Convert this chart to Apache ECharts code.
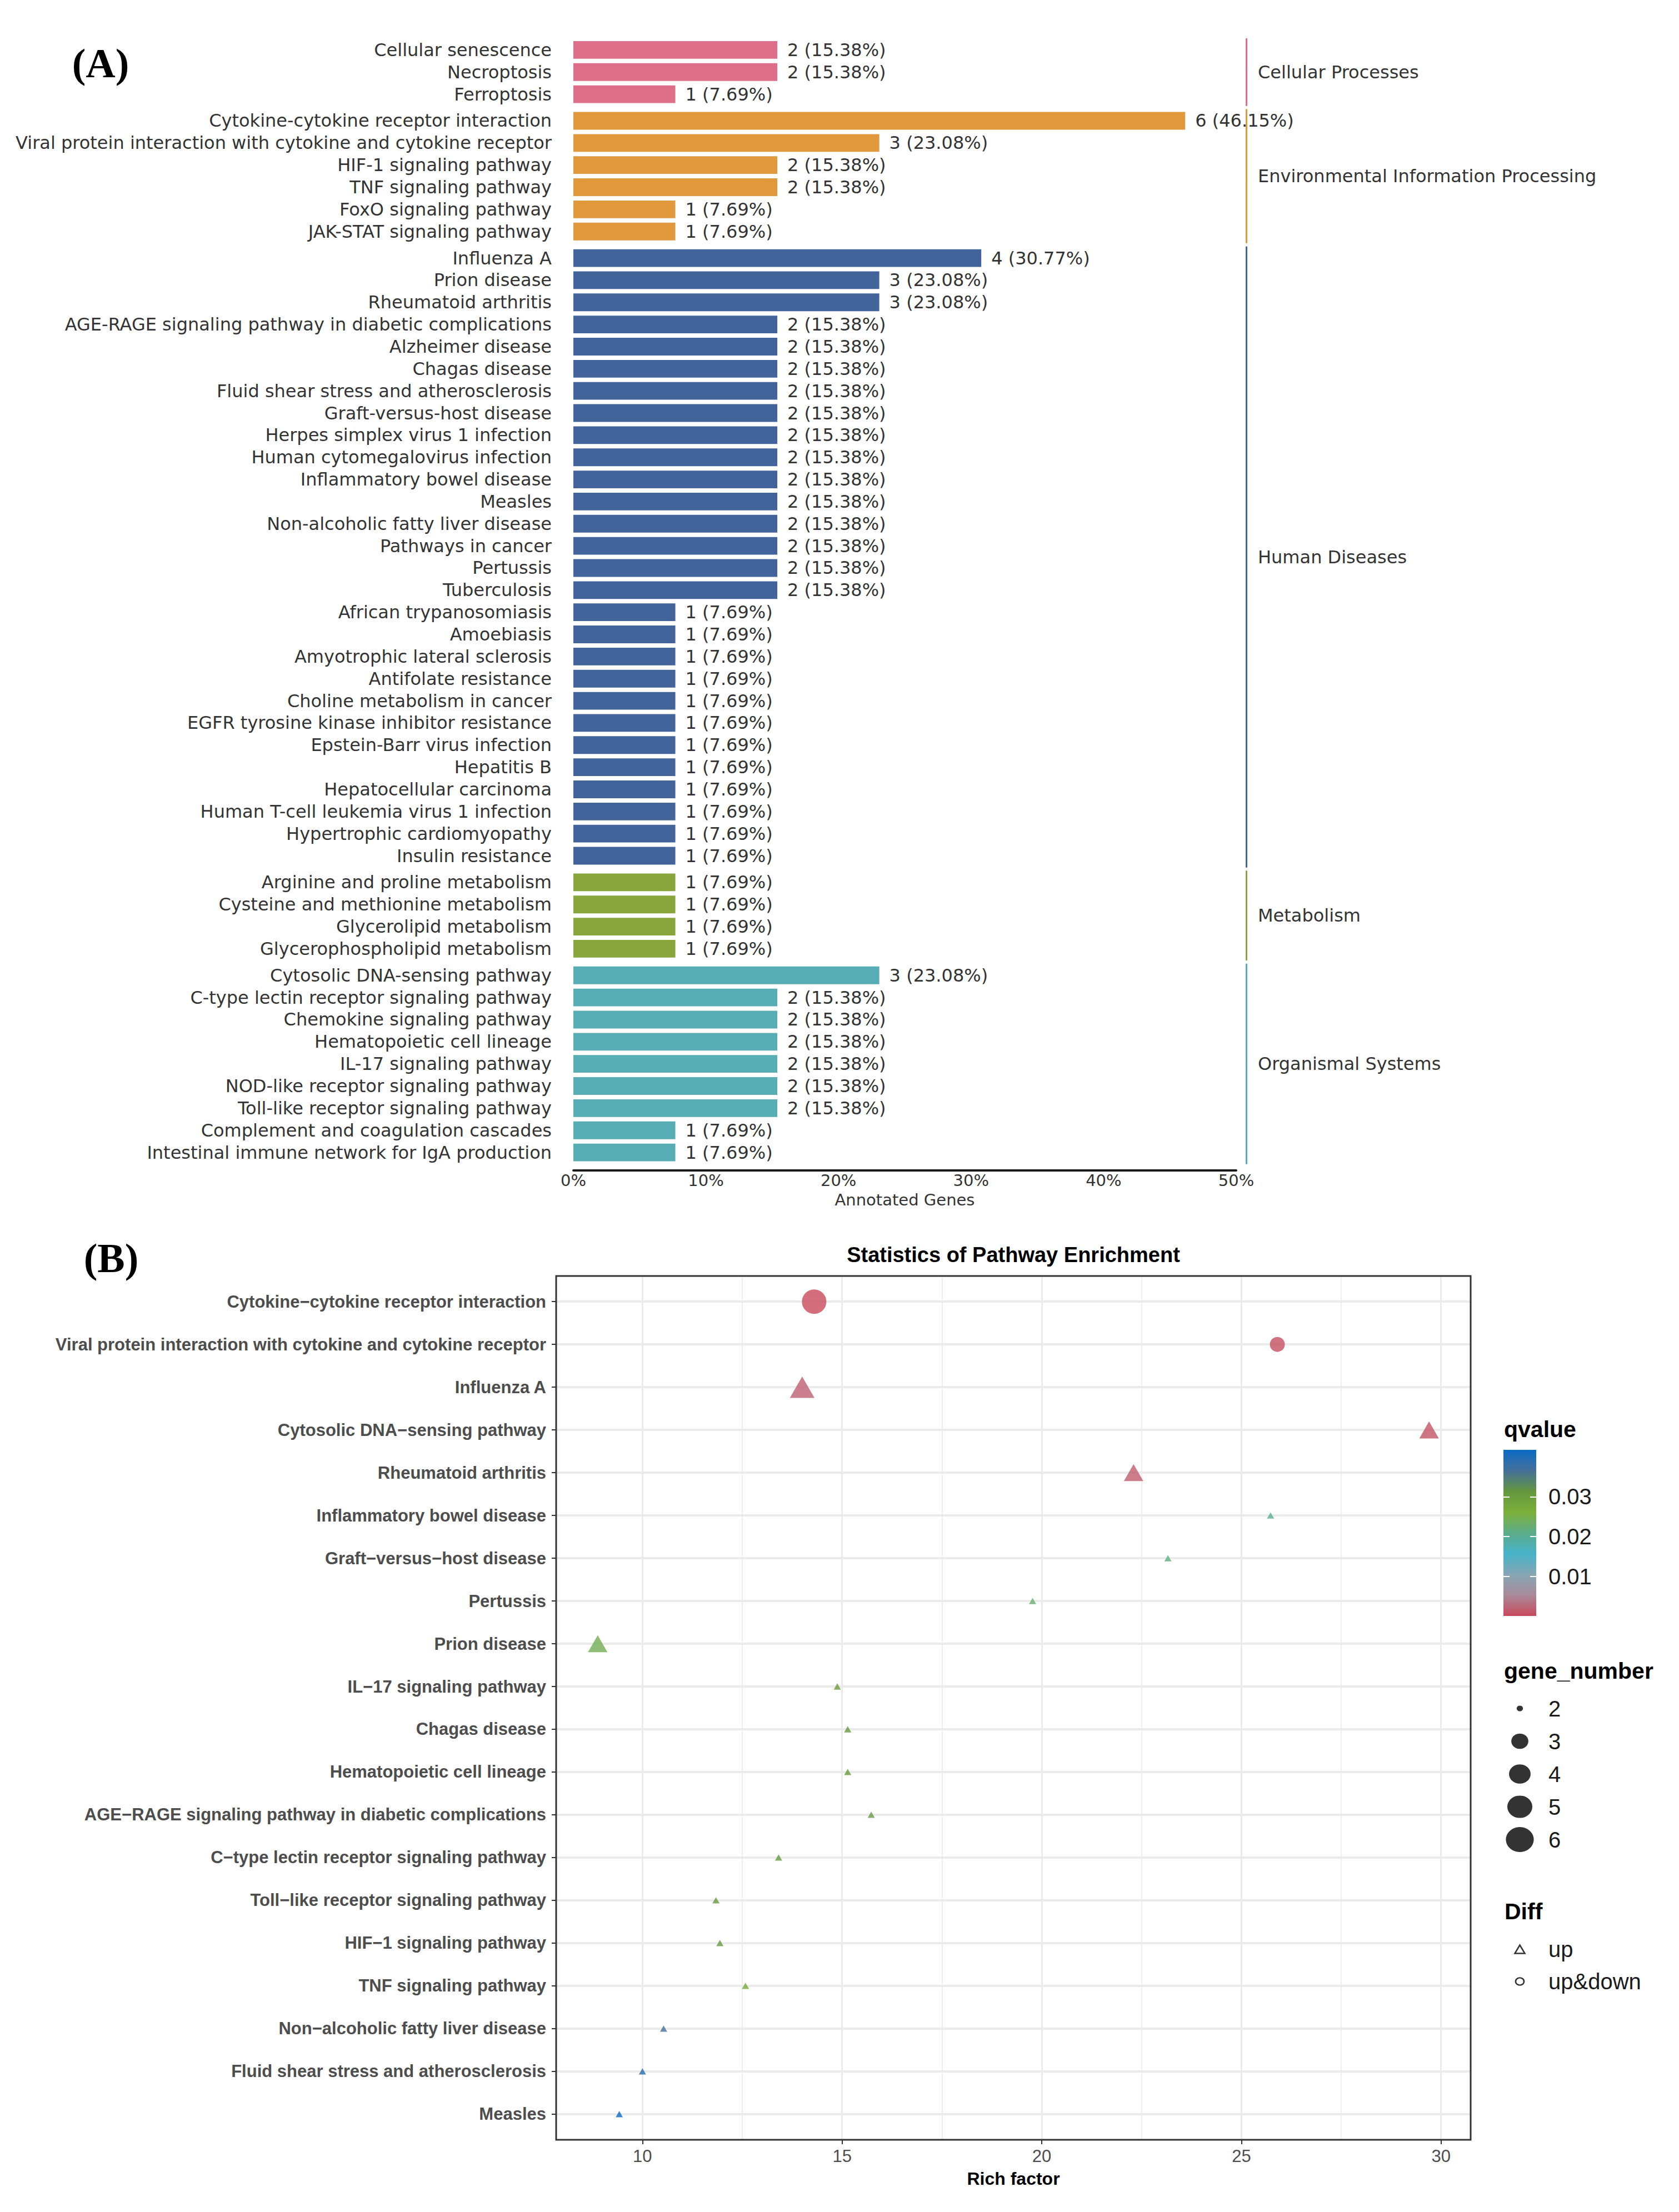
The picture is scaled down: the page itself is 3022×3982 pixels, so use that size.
<!DOCTYPE html>
<html><head><meta charset="utf-8">
<script src="https://cdn.jsdelivr.net/npm/echarts@6/dist/echarts.min.js"></script>
<style>html,body{margin:0;padding:0;background:#fff}#c{width:3022px;height:3982px}</style>
</head><body><div id="c"></div>
<script>
// ---------------- Panel A data ----------------
const totalGenes = 13;
const groupNames = ['Cellular Processes','Environmental Information Processing','Human Diseases','Metabolism','Organismal Systems'];
const cellularPathways = ['Cellular senescence','Necroptosis','Ferroptosis'];
const cellularCounts = [2,2,1];
const envPathways = ['Cytokine-cytokine receptor interaction','Viral protein interaction with cytokine and cytokine receptor','HIF-1 signaling pathway','TNF signaling pathway','FoxO signaling pathway','JAK-STAT signaling pathway'];
const envCounts = [6,3,2,2,1,1];
const humanPathways = ['Influenza A','Prion disease','Rheumatoid arthritis','AGE-RAGE signaling pathway in diabetic complications','Alzheimer disease','Chagas disease','Fluid shear stress and atherosclerosis','Graft-versus-host disease','Herpes simplex virus 1 infection','Human cytomegalovirus infection','Inflammatory bowel disease','Measles','Non-alcoholic fatty liver disease','Pathways in cancer','Pertussis','Tuberculosis','African trypanosomiasis','Amoebiasis','Amyotrophic lateral sclerosis','Antifolate resistance','Choline metabolism in cancer','EGFR tyrosine kinase inhibitor resistance','Epstein-Barr virus infection','Hepatitis B','Hepatocellular carcinoma','Human T-cell leukemia virus 1 infection','Hypertrophic cardiomyopathy','Insulin resistance'];
const humanCounts = [4,3,3,2,2,2,2,2,2,2,2,2,2,2,2,2,1,1,1,1,1,1,1,1,1,1,1,1];
const metabolismPathways = ['Arginine and proline metabolism','Cysteine and methionine metabolism','Glycerolipid metabolism','Glycerophospholipid metabolism'];
const metabolismCounts = [1,1,1,1];
const organismalPathways = ['Cytosolic DNA-sensing pathway','C-type lectin receptor signaling pathway','Chemokine signaling pathway','Hematopoietic cell lineage','IL-17 signaling pathway','NOD-like receptor signaling pathway','Toll-like receptor signaling pathway','Complement and coagulation cascades','Intestinal immune network for IgA production'];
const organismalCounts = [3,2,2,2,2,2,2,1,1];
const percentTicks = [0,10,20,30,40,50];

// ---------------- Panel B data ----------------
const pathwaysB = ['Cytokine\u2212cytokine receptor interaction','Viral protein interaction with cytokine and cytokine receptor','Influenza A','Cytosolic DNA\u2212sensing pathway','Rheumatoid arthritis','Inflammatory bowel disease','Graft\u2212versus\u2212host disease','Pertussis','Prion disease','IL\u221217 signaling pathway','Chagas disease','Hematopoietic cell lineage','AGE\u2212RAGE signaling pathway in diabetic complications','C\u2212type lectin receptor signaling pathway','Toll\u2212like receptor signaling pathway','HIF\u22121 signaling pathway','TNF signaling pathway','Non\u2212alcoholic fatty liver disease','Fluid shear stress and atherosclerosis','Measles'];
const richFactor = [14.3,25.9,14.0,29.7,22.3,25.73,23.16,19.77,8.88,14.88,15.14,15.14,15.73,13.41,11.84,11.94,12.58,10.53,10.0,9.42];
const geneNumber = [6,3,4,3,3,2,2,2,3,2,2,2,2,2,2,2,2,2,2,2];
const qvalue = [0.00002,0.0006,0.0018,0.0010,0.0015,0.0200,0.0215,0.0225,0.0245,0.0305,0.0307,0.0307,0.0305,0.0307,0.0310,0.0310,0.0275,0.0365,0.0392,0.0418];
const diff = ['up&down','up&down','up','up','up','up','up','up','up','up','up','up','up','up','up','up','up','up','up','up'];
const richTicks = [10,15,20,25,30];
const qTicks = [0.01,0.02,0.03];
const geneLegendValues = [2,3,4,5,6];
const diffLevels = ['up','up&down'];

// ---------------- styles ----------------
const groupColors = ['#DD6F8A','#E0993D','#42649A','#88A63B','#58ADB5'];
const qColors = ['#C9485B','#A88A9A','#86A6B4','#47B3C8','#5CAB8A','#7CB03A','#64963F','#45709A','#0A6AC4'];
const diffSymbols = ['triangle','circle'];
const FA = 'DejaVu Sans';
const FB = 'Liberation Sans';

const groups = [
  {name:groupNames[0], paths:cellularPathways, counts:cellularCounts, color:groupColors[0]},
  {name:groupNames[1], paths:envPathways, counts:envCounts, color:groupColors[1]},
  {name:groupNames[2], paths:humanPathways, counts:humanCounts, color:groupColors[2]},
  {name:groupNames[3], paths:metabolismPathways, counts:metabolismCounts, color:groupColors[3]},
  {name:groupNames[4], paths:organismalPathways, counts:organismalCounts, color:groupColors[4]}
];

const grids = [], xAxes = [], yAxes = [], series = [];
const A_LEFT = 1032, A_WIDTH = 1193, ROW = 39.85, GAP = 8, FSA = 32, FSX = 29;
let topA = 70;
groups.forEach((g, i) => {
  const h = g.paths.length * ROW;
  const gi = grids.length;
  grids.push({left:A_LEFT, top:topA, width:A_WIDTH, height:h, outerBoundsMode:'none'});
  topA += h + GAP;
  const last = i === groups.length - 1;
  xAxes.push({gridIndex:gi, type:'value', min:percentTicks[0], max:percentTicks[percentTicks.length-1], interval:10, show:last, offset:12,
    axisLine:{show:true, lineStyle:{color:'#1a1a1a', width:4}}, axisTick:{show:false}, splitLine:{show:false},
    axisLabel:{formatter:'{value}%', fontSize:FSX, fontFamily:FA, color:'#333', margin:4},
    name:last ? 'Annotated Genes' : '', nameLocation:'middle', nameGap:39, nameMoveOverlap:false,
    nameTextStyle:{fontSize:FSX, fontFamily:FA, color:'#333'}});
  const yi = yAxes.length;
  yAxes.push({gridIndex:gi, type:'category', data:g.paths, inverse:true,
    axisLine:{show:false}, axisTick:{show:false}, splitLine:{show:false},
    axisLabel:{interval:0, fontSize:FSA, fontFamily:FA, color:'#333', margin:39}});
  yAxes.push({gridIndex:gi, type:'category', data:g.paths, inverse:true, position:'right', offset:18,
    axisLine:{show:true, lineStyle:{color:g.color, width:3}}, axisTick:{show:false}, axisLabel:{show:false}, splitLine:{show:false},
    name:g.name, nameLocation:'middle', nameRotate:0, nameGap:21, nameMoveOverlap:false,
    nameTextStyle:{align:'left', verticalAlign:'middle', fontSize:FSA, fontFamily:FA, color:'#333'}});
  series.push({type:'bar', xAxisIndex:gi, yAxisIndex:yi, data:g.counts.map(c => c / totalGenes * 100),
    barCategoryGap:'20%', itemStyle:{color:g.color}, silent:true,
    label:{show:true, position:'right', distance:18, fontSize:FSA, fontFamily:FA, color:'#333',
      formatter:p => g.counts[p.dataIndex] + ' (' + (g.counts[p.dataIndex] / totalGenes * 100).toFixed(2) + '%)'}});
});

// ---------------- Panel B ----------------
const B = {left:1001, top:2297, width:1646, height:1555};
const rMin = Math.min(...richFactor), rMax = Math.max(...richFactor), rPad = (rMax - rMin) * 0.05;
const xMinB = +(rMin - rPad).toFixed(3), xMaxB = +(rMax + rPad).toFixed(3);
// frame grid (x scale, gridlines, ticks, labels)
const gP = grids.length;
grids.push({left:B.left, top:B.top, width:B.width, height:B.height, outerBoundsMode:'none'});
const xP = xAxes.length;
xAxes.push({gridIndex:gP, type:'value', min:xMinB, max:xMaxB,
  axisLine:{show:false},
  axisTick:{show:true, customValues:richTicks, length:8, lineStyle:{color:'#333', width:2}},
  axisLabel:{customValues:richTicks, fontSize:31, fontFamily:FB, color:'#4D4D4D', margin:14,
    formatter:v => (Math.abs(v / 5 - Math.round(v / 5)) < 1e-6 ? String(v) : '')},
  splitLine:{show:true, lineStyle:{color:'#EBEBEB', width:3}},
  name:'Rich factor', nameLocation:'middle', nameGap:54, nameMoveOverlap:false,
  nameTextStyle:{fontSize:32, fontWeight:'bold', fontFamily:FB, color:'#000'}});
const yP = yAxes.length;
yAxes.push({gridIndex:gP, type:'value', min:0, max:1, show:false});
const minorRich = richTicks.slice(0, -1).map((t, i) => (t + richTicks[i + 1]) / 2);
series.push({type:'scatter', xAxisIndex:xP, yAxisIndex:yP, data:[], silent:true, z:1,
  markLine:{silent:true, z:1, symbol:['none','none'], label:{show:false}, animation:false,
    lineStyle:{color:'#EFEFEF', width:2, type:'solid'},
    data:minorRich.map(x => ({xAxis:x}))}});

// data grid: discrete axis with ggplot-like 0.6 band expansion
const band = B.height / (pathwaysB.length - 1 + 1.2);
const gQ = grids.length;
grids.push({left:B.left, top:B.top + 0.1 * band, width:B.width, height:band * pathwaysB.length, outerBoundsMode:'none'});
const xQ = xAxes.length;
xAxes.push({gridIndex:gQ, type:'value', min:xMinB, max:xMaxB, show:false});
const yQ = yAxes.length;
yAxes.push({gridIndex:gQ, type:'category', data:pathwaysB, inverse:true,
  axisLine:{show:false},
  axisTick:{show:true, alignWithLabel:true, length:8, lineStyle:{color:'#333', width:2}},
  axisLabel:{interval:0, fontSize:31, fontWeight:'bold', fontFamily:FB, color:'#4D4D4D', margin:18},
  splitLine:{show:false}});
series.push({type:'scatter', xAxisIndex:xQ, yAxisIndex:yQ, data:[], silent:true, z:1,
  markLine:{silent:true, z:1, symbol:['none','none'], label:{show:false}, animation:false,
    lineStyle:{color:'#EBEBEB', width:4, type:'solid'},
    data:pathwaysB.map(p => ({yAxis:p}))}});

const gMin = Math.min(...geneNumber), gMax = Math.max(...geneNumber);
const geneSize = n => 10 + Math.sqrt((n - gMin) / (gMax - gMin)) * 34;
const pointSeriesIdx = [];
diffLevels.forEach((lvl, k) => {
  const data = [];
  pathwaysB.forEach((p, i) => { if (diff[i] === lvl) data.push([richFactor[i], p, geneNumber[i], qvalue[i]]); });
  pointSeriesIdx.push(series.length);
  series.push({type:'scatter', name:lvl, xAxisIndex:xQ, yAxisIndex:yQ, z:3, data,
    encode:{x:0, y:1}, symbol:diffSymbols[k],
    symbolSize:v => { const d = geneSize(v[2]); return diffSymbols[k] === 'triangle' ? [d * 1.3, d * 1.13] : d; }});
});

// ---------------- qvalue colorbar ----------------
const qMin = Math.min(...qvalue), qMax = Math.max(...qvalue);
const gC = grids.length;
grids.push({left:2706, top:2610, width:59, height:299, outerBoundsMode:'none'});
xAxes.push({gridIndex:gC, type:'category', data:['q'], show:false});
const yC = yAxes.length;
yAxes.push({gridIndex:gC, type:'value', min:qMin, max:qMax, position:'right', z:10,
  axisLine:{show:false}, splitLine:{show:false},
  axisTick:{show:true, inside:true, length:11, customValues:qTicks, lineStyle:{color:'#fff', width:2}},
  axisLabel:{customValues:qTicks, fontSize:40, fontFamily:FB, color:'#1a1a1a', margin:22,
    formatter:v => (v > 0.005 && v < 0.035 ? v.toFixed(2) : '')}});
yAxes.push({gridIndex:gC, type:'value', min:qMin, max:qMax, position:'left', z:10,
  axisLine:{show:false}, splitLine:{show:false}, axisLabel:{show:false},
  axisTick:{show:true, inside:true, length:11, customValues:qTicks, lineStyle:{color:'#fff', width:2}}});
series.push({type:'bar', xAxisIndex:xAxes.length - 1, yAxisIndex:yC, data:[qMax], barWidth:'100%', clip:true, silent:true, z:2,
  itemStyle:{color:new echarts.graphic.LinearGradient(0, 0, 0, 1,
    qColors.map((c, i) => ({offset:i / (qColors.length - 1), color:qColors[qColors.length - 1 - i]})))}});

// ---------------- gene_number legend ----------------
const gS = grids.length;
grids.push({left:2706, top:3046, width:59, height:295, outerBoundsMode:'none'});
xAxes.push({gridIndex:gS, type:'value', min:0, max:1, show:false});
yAxes.push({gridIndex:gS, type:'category', data:geneLegendValues.map(String), inverse:true, position:'right',
  axisLine:{show:false}, axisTick:{show:false}, splitLine:{show:false},
  axisLabel:{interval:0, fontSize:40, fontFamily:FB, color:'#1a1a1a', margin:22}});
series.push({type:'scatter', xAxisIndex:xAxes.length - 1, yAxisIndex:yAxes.length - 1, silent:true,
  data:geneLegendValues.map(v => [0.5, String(v), v]), symbol:'circle',
  symbolSize:v => { const d = geneSize(v[2]); return [d * 1.14, d * 1.02]; }, itemStyle:{color:'#000'}});

// ---------------- Diff legend ----------------
const gD = grids.length;
grids.push({left:2706, top:3480, width:59, height:116, outerBoundsMode:'none'});
xAxes.push({gridIndex:gD, type:'value', min:0, max:1, show:false});
yAxes.push({gridIndex:gD, type:'category', data:diffLevels, inverse:true, position:'right',
  axisLine:{show:false}, axisTick:{show:false}, splitLine:{show:false},
  axisLabel:{interval:0, fontSize:40, fontFamily:FB, color:'#1a1a1a', margin:22}});
series.push({type:'scatter', xAxisIndex:xAxes.length - 1, yAxisIndex:yAxes.length - 1, silent:true,
  data:diffLevels.map((l, k) => ({value:[0.5, l], symbol:diffSymbols[k], symbolSize:diffSymbols[k] === 'triangle' ? [18, 15] : [15, 13]})),
  itemStyle:{color:'#fff', borderColor:'#000', borderWidth:2.5}});

const txt = (text, x, y, size, family, weight, align) => ({type:'text', x, y, silent:true,
  style:{text, fontSize:size, fontFamily:family, fontWeight:weight, fill:'#000', align:align || 'left', verticalAlign:'middle'}});

const option = {
  animation:false,
  backgroundColor:'#ffffff',
  textStyle:{fontFamily:FA},
  grid:grids, xAxis:xAxes, yAxis:yAxes, series,
  visualMap:[{type:'continuous', show:false, dimension:3, seriesIndex:pointSeriesIdx, min:qMin, max:qMax, inRange:{color:qColors}}],
  graphic:[
    txt('(A)', 181, 114, 74, 'Liberation Serif', 'bold', 'center'),
    txt('(B)', 200, 2265, 74, 'Liberation Serif', 'bold', 'center'),
    txt('Statistics of Pathway Enrichment', B.left + B.width / 2, 2259, 38, FB, 'bold', 'center'),
    txt('qvalue', 2707, 2573, 41, FB, 'bold'),
    txt('gene_number', 2707, 3008, 41, FB, 'bold'),
    txt('Diff', 2708, 3441, 41, FB, 'bold'),
    {type:'rect', silent:true, z:100, shape:{x:B.left, y:B.top, width:B.width, height:B.height},
      style:{fill:'none', stroke:'#333', lineWidth:3}}
  ]
};
const chart = echarts.init(document.getElementById('c'), null, {renderer:'svg', width:3022, height:3982});
chart.setOption(option);
</script></body></html>
